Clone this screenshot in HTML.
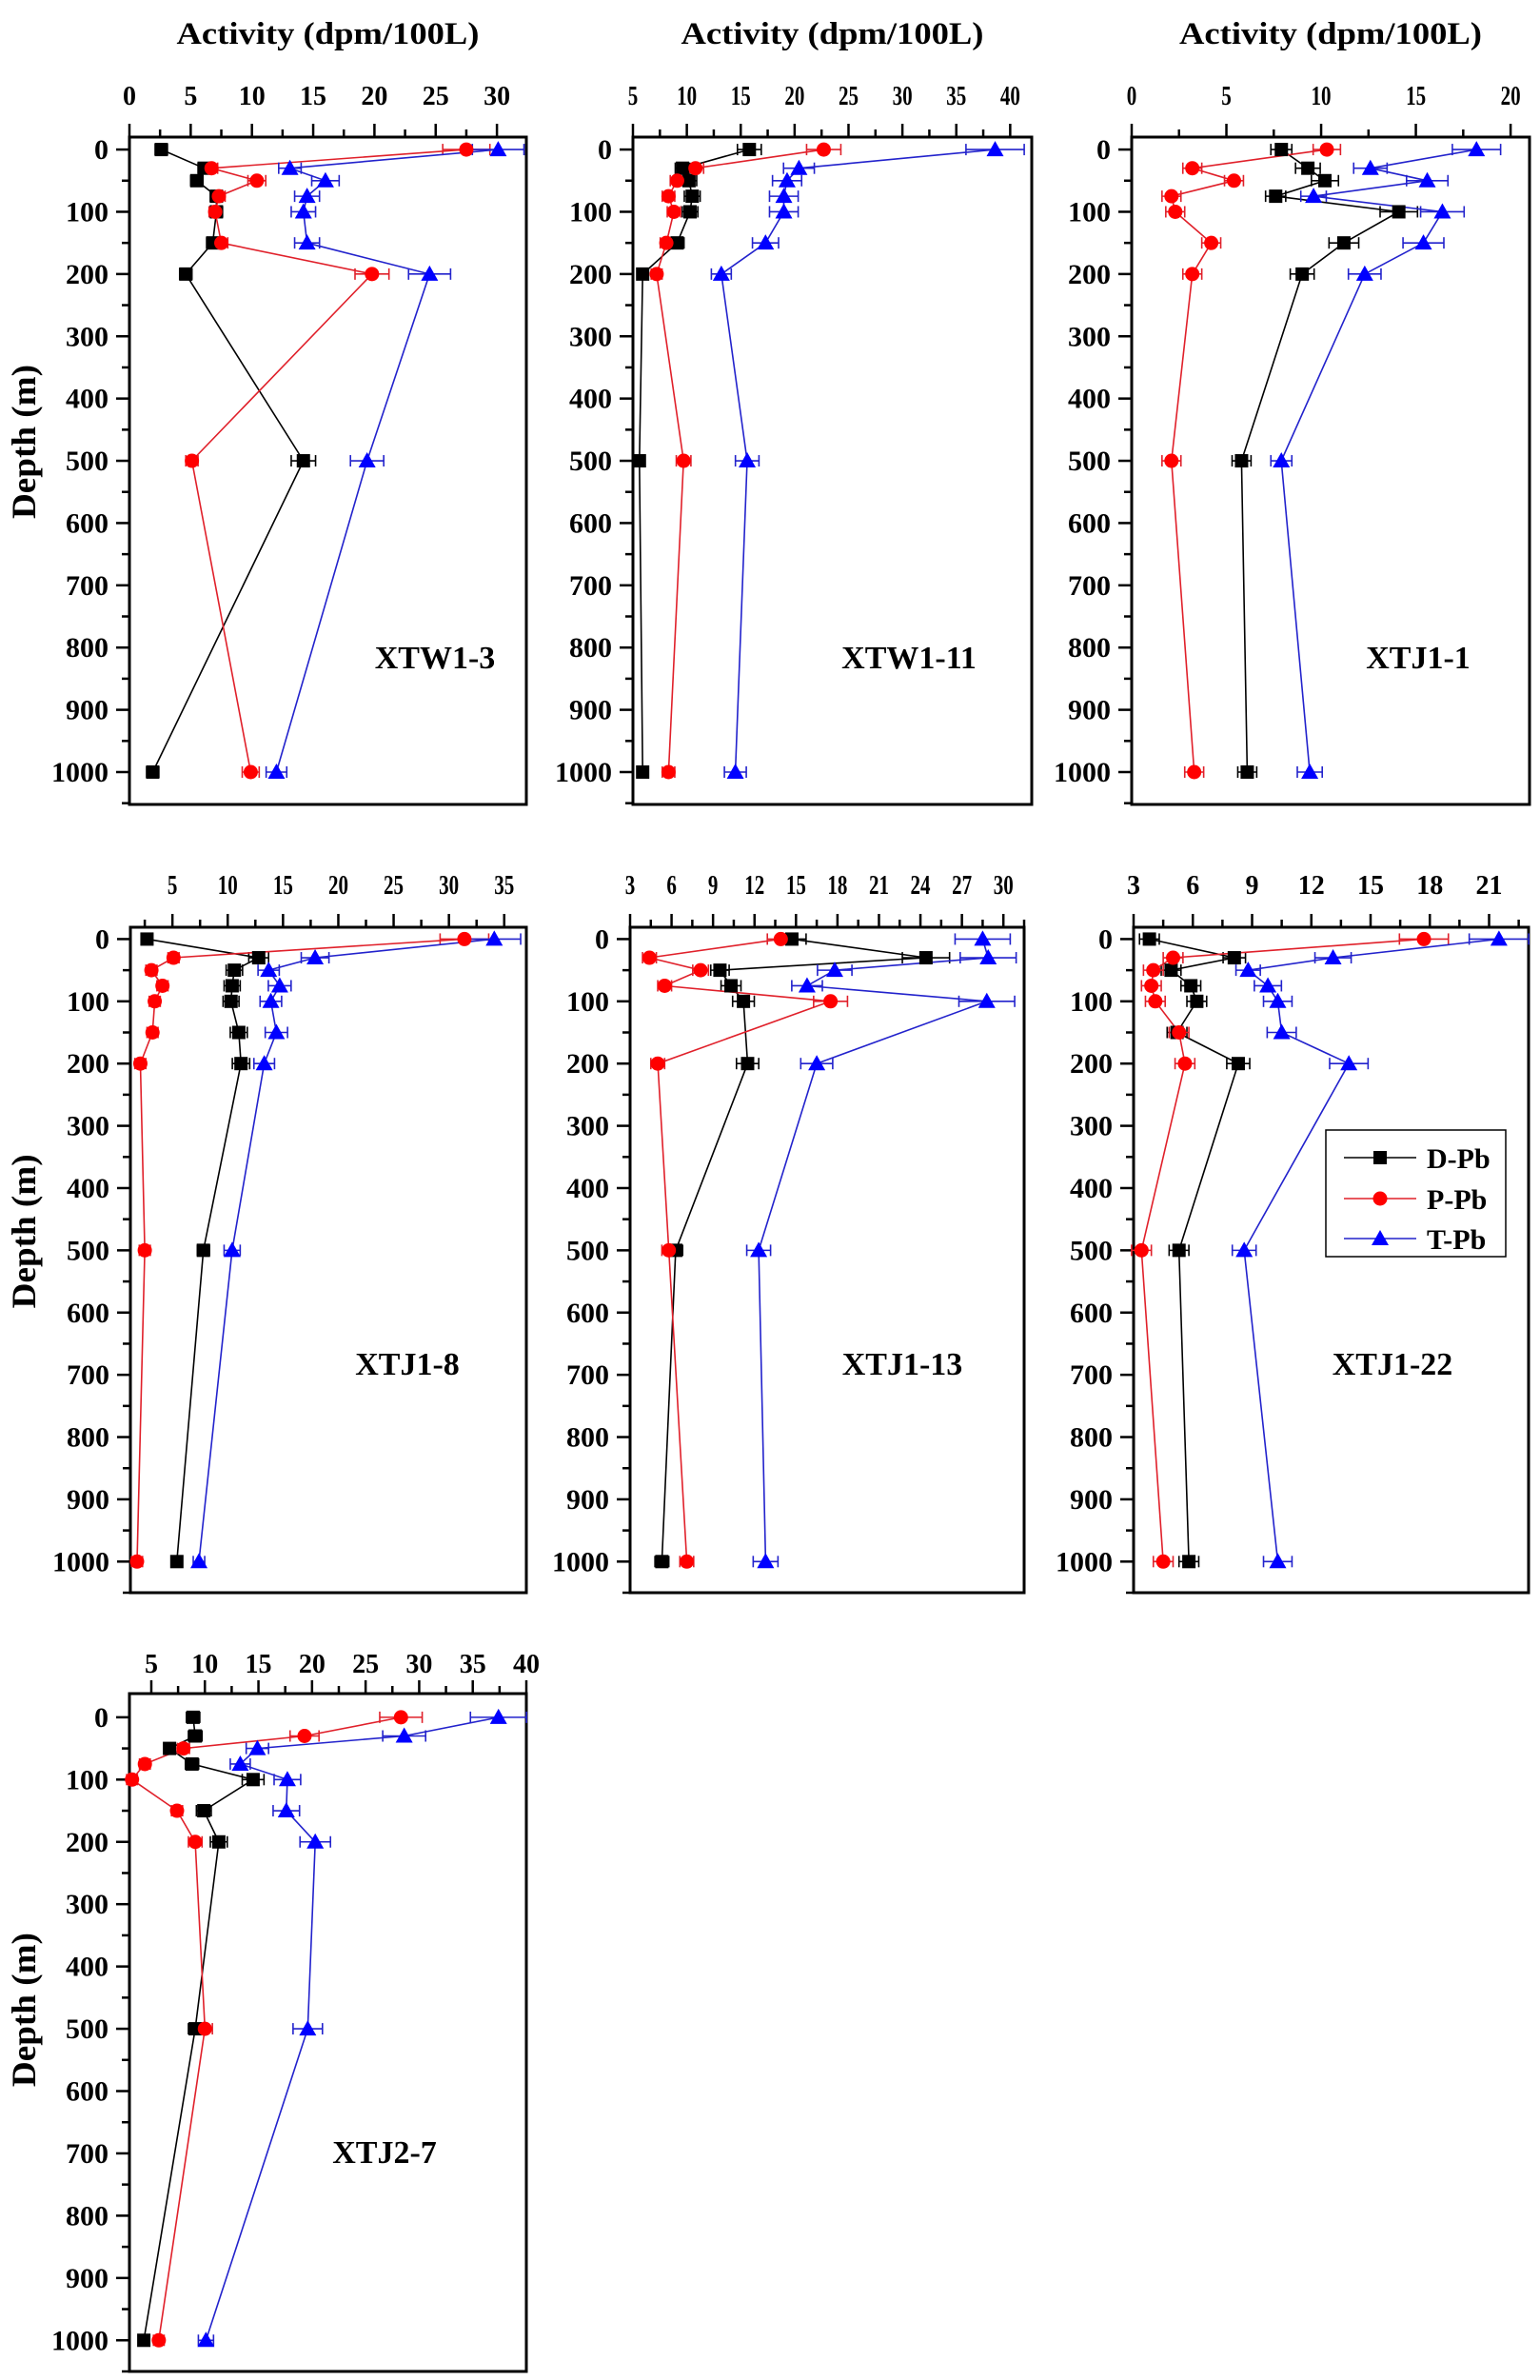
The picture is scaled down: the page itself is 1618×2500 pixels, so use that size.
<!DOCTYPE html>
<html><head><meta charset="utf-8"><title>Pb activity depth profiles</title>
<style>
html,body{margin:0;padding:0;background:#fff;}
svg{display:block;font-family:"Liberation Serif","Times New Roman",serif;font-weight:bold;}
svg text{font-family:"Liberation Serif","Times New Roman",serif;font-weight:bold;}
</style></head>
<body>
<svg id="fig" width="1618" height="2500" viewBox="0 0 1618 2500" xmlns="http://www.w3.org/2000/svg">
<rect x="0" y="0" width="1618" height="2500" fill="#fff"/>
</svg>
<script>
// ---- data (activity in dpm/100L vs depth in m) ----
const depthsStd = [0, 30, 50, 75, 100, 150, 200, 500, 1000];
const depthsXTJ113 = [0, 30, 50, 75, 100, 200, 500, 1000];

const dXTW13 = [2.6, 6.1, 5.5, 7.1, 7.1, 6.8, 4.6, 14.2, 1.9];
const pXTW13 = [27.5, 6.7, 10.4, 7.3, 7.0, 7.5, 19.8, 5.1, 9.9];
const tXTW13 = [30.1, 13.1, 16.0, 14.5, 14.2, 14.5, 24.5, 19.4, 12.0];

const dXTW111 = [15.8, 9.6, 10.2, 10.5, 10.3, 9.1, 5.9, 5.6, 5.9];
const pXTW111 = [22.7, 10.8, 9.1, 8.3, 8.8, 8.1, 7.2, 9.7, 8.3];
const tXTW111 = [38.6, 20.4, 19.3, 19.0, 19.0, 17.3, 13.2, 15.6, 14.5];

const dXTJ11 = [7.9, 9.3, 10.2, 7.6, 14.1, 11.2, 9.0, 5.8, 6.1];
const pXTJ11 = [10.3, 3.2, 5.4, 2.1, 2.3, 4.2, 3.2, 2.1, 3.3];
const tXTJ11 = [18.2, 12.6, 15.6, 9.6, 16.4, 15.4, 12.3, 7.9, 9.4];

const dXTJ18 = [2.7, 12.8, 10.6, 10.4, 10.3, 11.0, 11.2, 7.8, 5.4];
const pXTJ18 = [31.4, 5.1, 3.1, 4.1, 3.4, 3.2, 2.1, 2.5, 1.8];
const tXTJ18 = [34.1, 17.9, 13.7, 14.7, 13.9, 14.4, 13.3, 10.4, 7.4];

const dXTJ113 = [14.7, 24.4, 9.5, 10.3, 11.2, 11.5, 6.3, 5.3];
const pXTJ113 = [13.9, 4.4, 8.1, 5.5, 17.5, 5.0, 5.8, 7.1];
const tXTJ113 = [28.5, 28.9, 17.8, 15.8, 28.8, 16.5, 12.3, 12.8];

const dXTJ122 = [3.8, 8.1, 4.9, 5.9, 6.2, 5.2, 8.3, 5.3, 5.8];
const pXTJ122 = [17.7, 5.0, 4.0, 3.9, 4.1, 5.3, 5.6, 3.4, 4.5];
const tXTJ122 = [21.5, 13.1, 8.8, 9.8, 10.3, 10.5, 13.9, 8.6, 10.3];

const dXTJ27 = [8.9, 9.1, 6.7, 8.8, 14.5, 9.9, 11.3, 9.1, 4.3];
const pXTJ27 = [28.3, 19.3, 8.0, 4.4, 3.2, 7.4, 9.1, 10.0, 5.7];
const tXTJ27 = [37.4, 28.6, 14.9, 13.3, 17.7, 17.6, 20.3, 19.6, 10.1];

const depthTicks = [0, 100, 200, 300, 400, 500, 600, 700, 800, 900, 1000];
const seriesNames = ["D-Pb", "P-Pb", "T-Pb"];

// ---- layout ----
const NS = "http://www.w3.org/2000/svg";
const FONT = "Liberation Serif, Times New Roman, serif";
const svg = document.getElementById("fig");
const colors = ["#000000", "#ff0000", "#0000ff"];
const lineColors = ["#000000", "#e0202a", "#2222cc"];

const panels = [
  {name:"XTW1-3", x0:136, x1:553, top:144, bottom:845, dmin:-20, dmax:1052, vmin:0, vmax:32.4, step:5, first:0, last:30, title:true, ylab:true, lx:457, ly:702, depths:depthsStd, D:dXTW13, P:pXTW13, T:tXTW13, tickY:110, cond:false},
  {name:"XTW1-11", x0:665, x1:1084, top:144, bottom:845, dmin:-20, dmax:1052, vmin:5, vmax:42, step:5, first:5, last:40, title:true, ylab:false, lx:955, ly:702, depths:depthsStd, D:dXTW111, P:pXTW111, T:tXTW111, tickY:110, cond:true},
  {name:"XTJ1-1", x0:1189, x1:1607, top:144, bottom:845, dmin:-20, dmax:1052, vmin:0, vmax:21, step:5, first:0, last:20, title:true, ylab:false, lx:1490, ly:702, depths:depthsStd, D:dXTJ11, P:pXTJ11, T:tXTJ11, tickY:110, cond:true},
  {name:"XTJ1-8", x0:137, x1:553, top:974, bottom:1673, dmin:-19, dmax:1050, vmin:1.2, vmax:37, step:5, first:5, last:35, title:false, ylab:true, lx:428, ly:1444, depths:depthsStd, D:dXTJ18, P:pXTJ18, T:tXTJ18, tickY:939, cond:true},
  {name:"XTJ1-13", x0:662, x1:1076, top:974, bottom:1673, dmin:-19, dmax:1050, vmin:3, vmax:31.5, step:3, first:3, last:30, title:false, ylab:false, lx:948, ly:1444, depths:depthsXTJ113, D:dXTJ113, P:pXTJ113, T:tXTJ113, tickY:939, cond:true},
  {name:"XTJ1-22", x0:1191, x1:1606, top:974, bottom:1673, dmin:-19, dmax:1050, vmin:3, vmax:23, step:3, first:3, last:21, title:false, ylab:false, lx:1463, ly:1444, depths:depthsStd, D:dXTJ122, P:pXTJ122, T:tXTJ122, tickY:939, legend:true, cond:false},
  {name:"XTJ2-7", x0:136, x1:553, top:1779, bottom:2491, dmin:-38, dmax:1050, vmin:2.96, vmax:40, step:5, first:5, last:40, title:false, ylab:true, lx:404, ly:2272, depths:depthsStd, D:dXTJ27, P:pXTJ27, T:tXTJ27, tickY:1757, cond:false}
];

function mk(tag, attrs, parent) {
  const e = document.createElementNS(NS, tag);
  for (const k in attrs) e.setAttribute(k, attrs[k]);
  if (tag === "text") { e.setAttribute("font-family", FONT); e.setAttribute("font-weight", "bold"); }
  (parent || svg).appendChild(e);
  return e;
}

function marker(g, kind, cx, cy, color) {
  let m;
  if (kind === 0) {
    m = mk("rect", {x:cx-7, y:cy-7, width:14, height:14, fill:color}, g);
  } else if (kind === 1) {
    m = mk("circle", {cx:cx, cy:cy, r:7.5, fill:color}, g);
  } else {
    m = mk("polygon", {points:`${cx},${cy-9} ${cx+9},${cy+7} ${cx-9},${cy+7}`, fill:color}, g);
  }
  return m;
}

panels.forEach((p, pi) => {
  const g = mk("g", {});
  
  
  const xs = v => p.x0 + (v - p.vmin) / (p.vmax - p.vmin) * (p.x1 - p.x0);
  const ys = d => p.top + (d - p.dmin) / (p.dmax - p.dmin) * (p.bottom - p.top);

  const fr = mk("rect", {x:p.x0, y:p.top, width:p.x1-p.x0, height:p.bottom-p.top, fill:"none", stroke:"#000", "stroke-width":3}, g);
  
  

  const half = p.step / 2;
  for (let v = p.first - half; v <= p.vmax + 1e-6; v += half) {
    if (v < p.vmin - 1e-6) continue;
    const major = Math.abs(((v - p.first) / p.step) - Math.round((v - p.first) / p.step)) < 1e-6;
    const x = xs(v);
    mk("line", {x1:x, y1:p.top, x2:x, y2:p.top-(major?14:8), stroke:"#000", "stroke-width":2.5}, g);
    if (major && v <= p.last + 1e-6) {
      const s = String(Math.round(v));
      const attrs = {x:x, y:p.tickY, "font-size":28, "text-anchor":"middle", fill:"#000"};
      if (p.cond) { attrs.textLength = s.length * 10.5; attrs.lengthAdjust = "spacingAndGlyphs"; }
      const t = mk("text", attrs, g);
      t.textContent = s;
      
      
    }
  }
  for (let d = 0; d <= 1050; d += 50) {
    const y = ys(d);
    if (y > p.bottom + 1) break;
    const major = d % 100 === 0;
    mk("line", {x1:p.x0, y1:y, x2:p.x0-(major?14:8), y2:y, stroke:"#000", "stroke-width":2.5}, g);
  }
  depthTicks.forEach(d => {
    const t = mk("text", {x:p.x0-22, y:ys(d)+10, "font-size":30, "text-anchor":"end", fill:"#000"}, g);
    t.textContent = String(d);
    
    
  });

  if (p.title) {
    const t = mk("text", {x:(p.x0+p.x1)/2, y:46, "font-size":33, "text-anchor":"middle", textLength:318, lengthAdjust:"spacingAndGlyphs", fill:"#000"}, g);
    t.textContent = "Activity (dpm/100L)";
    
    
  }
  if (p.ylab) {
    const cy = ys(500) - 20;
    const t = mk("text", {x:0, y:0, "font-size":36, "text-anchor":"middle", textLength:162, lengthAdjust:"spacingAndGlyphs", transform:`translate(37 ${cy}) rotate(-90)`, fill:"#000"}, g);
    t.textContent = "Depth (m)";
    
    
  }
  const lab = mk("text", {x:p.lx, y:p.ly, "font-size":34, "text-anchor":"middle", fill:"#000"}, g);
  lab.textContent = p.name;
  
  

  const series = [p.D, p.P, p.T];
  series.forEach((vals, si) => {
    const pts = vals.map((v, i) => `${xs(v).toFixed(1)},${ys(p.depths[i]).toFixed(1)}`).join(" ");
    const pl = mk("polyline", {points:pts, fill:"none", stroke:lineColors[si], "stroke-width":1.6}, g);
    
    
    vals.forEach((v, i) => {
      const e = Math.max(0.5, v * 0.07);
      const y = ys(p.depths[i]);
      const xa = xs(v - e), xb = xs(v + e);
      mk("line", {x1:xa, y1:y, x2:xb, y2:y, stroke:lineColors[si], "stroke-width":1.6}, g);
      mk("line", {x1:xa, y1:y-6, x2:xa, y2:y+6, stroke:lineColors[si], "stroke-width":1.6}, g);
      mk("line", {x1:xb, y1:y-6, x2:xb, y2:y+6, stroke:lineColors[si], "stroke-width":1.6}, g);
    });
  });
  series.forEach((vals, si) => {
    vals.forEach((v, i) => {
      const m = marker(g, si, xs(v), ys(p.depths[i]), colors[si]);
      
      
    });
  });

  if (p.legend) {
    const lg = mk("g", {}, g);
    
    
    mk("rect", {x:1393, y:1187, width:189, height:133, fill:"#fff", stroke:"#000", "stroke-width":1.5}, lg);
    const ly = [1216, 1259, 1301];
    seriesNames.forEach((n, si) => {
      const ent = mk("g", {}, lg);
      
      
      mk("line", {x1:1412, y1:ly[si], x2:1488, y2:ly[si], stroke:lineColors[si], "stroke-width":1.6}, ent);
      marker(ent, si, 1450, ly[si], colors[si]);
      const t = mk("text", {x:1499, y:ly[si]+11, "font-size":30, fill:"#000"}, ent);
      t.textContent = n;
    });
  }
});
</script>
</body></html>
